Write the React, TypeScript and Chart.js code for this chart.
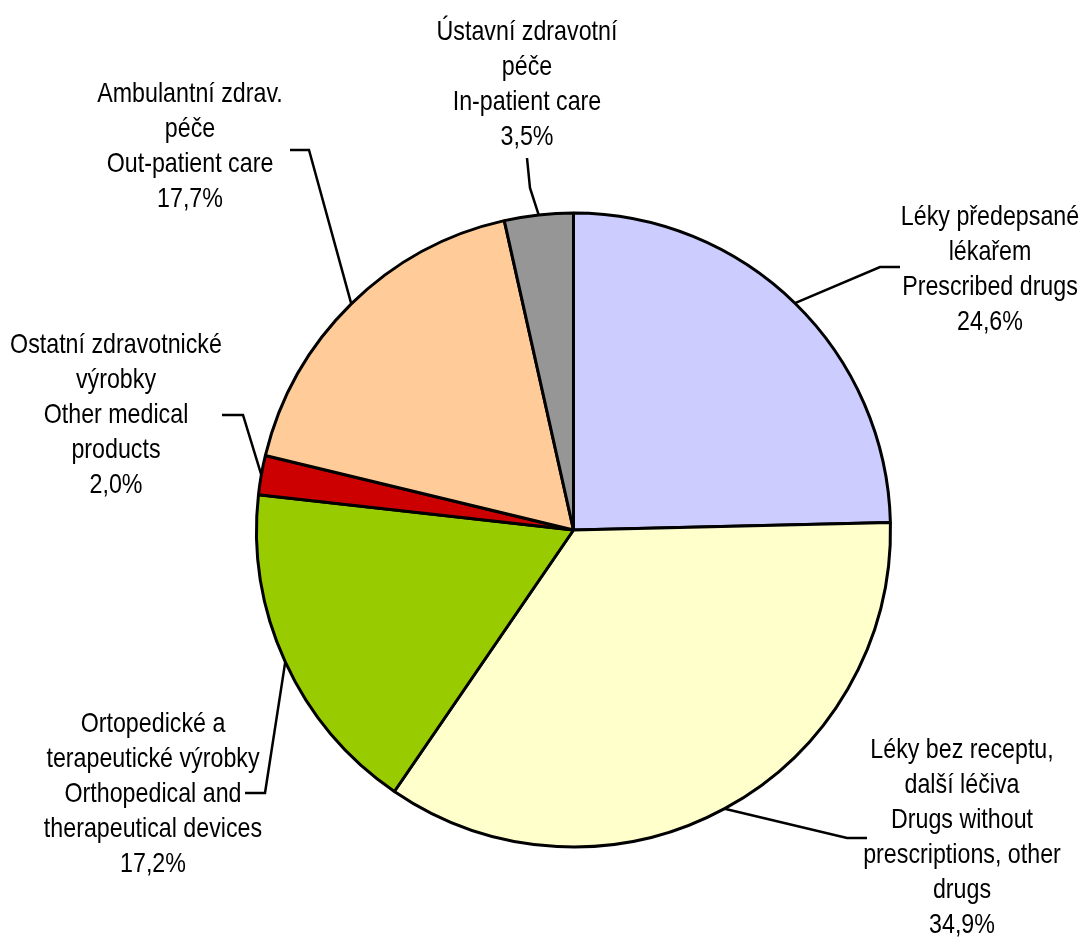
import React, { useEffect, useRef } from "react";
import { Chart, registerables } from "chart.js";

Chart.register(...registerables);

// ---- data ----
const categories = [
  "Prescribed drugs",
  "Drugs without prescriptions, other drugs",
  "Orthopedical and therapeutical devices",
  "Other medical products",
  "Out-patient care",
  "In-patient care",
];
const labelLines: string[][] = [
  ["Léky předepsané", "lékařem", "Prescribed drugs"],
  ["Léky bez receptu,", "další léčiva", "Drugs without", "prescriptions, other", "drugs"],
  ["Ortopedické a", "terapeutické výrobky", "Orthopedical and", "therapeutical devices"],
  ["Ostatní zdravotnické", "výrobky", "Other medical", "products"],
  ["Ambulantní zdrav.", "péče", "Out-patient care"],
  ["Ústavní zdravotní", "péče", "In-patient care"],
];
const values = [24.6, 34.9, 17.2, 2.0, 17.7, 3.5];
const colors = ["#CCCCFF", "#FFFFCC", "#99CC00", "#CC0000", "#FFCC99", "#969696"];

// ---- label layout (text centre x, first baseline y, leader start, leader elbow) ----
const labelLayout = [
  { x: 990, y: 225, start: [900, 267], elbow: [880, 267] },
  { x: 962, y: 758, start: [867, 838], elbow: [847, 838] },
  { x: 153, y: 732, start: [245, 793], elbow: [265, 793] },
  { x: 116, y: 353, start: [222, 415], elbow: [243, 415] },
  { x: 190, y: 102, start: [290, 150], elbow: [309, 150] },
  { x: 527, y: 40, start: [527, 158], elbow: [530, 188] },
];
const LINE_H = 35;
const FONT = '28px "Liberation Sans", Arial, sans-serif';
const NARROW = 0.83;

const fmtPct = (v: number) => v.toFixed(1).replace(".", ",") + "%";

const labelPlugin = {
  id: "pieLabels",
  afterDraw(chart: any) {
    const ctx = chart.ctx;
    const meta = chart.getDatasetMeta(0);
    ctx.save();
    meta.data.forEach((arc: any, i: number) => {
      const lay = labelLayout[i];
      const mid = (arc.startAngle + arc.endAngle) / 2;
      const px = arc.x + Math.cos(mid) * arc.outerRadius;
      const py = arc.y + Math.sin(mid) * arc.outerRadius;
      ctx.beginPath();
      ctx.strokeStyle = "#000";
      ctx.lineWidth = 2.5;
      ctx.lineJoin = "miter";
      ctx.moveTo(lay.start[0], lay.start[1]);
      ctx.lineTo(lay.elbow[0], lay.elbow[1]);
      ctx.lineTo(px, py);
      ctx.stroke();

      ctx.font = FONT;
      ctx.fillStyle = "#000";
      ctx.textAlign = "center";
      ctx.textBaseline = "alphabetic";
      const lines = [...labelLines[i], fmtPct(values[i])];
      lines.forEach((t, k) => {
        ctx.save();
        ctx.translate(lay.x, lay.y + k * LINE_H);
        ctx.scale(NARROW, 1);
        ctx.fillText(t, 0, 0);
        ctx.restore();
      });
    });
    ctx.restore();
  },
};

export default function App() {
  const ref = useRef<HTMLCanvasElement | null>(null);
  useEffect(() => {
    if (!ref.current) return;
    const chart = new Chart(ref.current, {
      type: "pie",
      data: {
        labels: categories,
        datasets: [
          {
            data: values,
            backgroundColor: colors,
            borderColor: "#000",
            borderWidth: 3,
            radius: 317,
          } as any,
        ],
      },
      options: {
        responsive: false,
        animation: false,
        devicePixelRatio: 1,
        layout: { padding: { left: 256, right: 193, top: 212, bottom: 89 } },
        plugins: { legend: { display: false }, tooltip: { enabled: false } },
      },
      plugins: [labelPlugin],
    });
    return () => chart.destroy();
  }, []);
  return (
    <div style={{ position: "absolute", left: 0, top: 0, width: 1084, height: 937, background: "#fff" }}>
      <canvas ref={ref} width={1084} height={937} style={{ width: 1084, height: 937 }} />
    </div>
  );
}
